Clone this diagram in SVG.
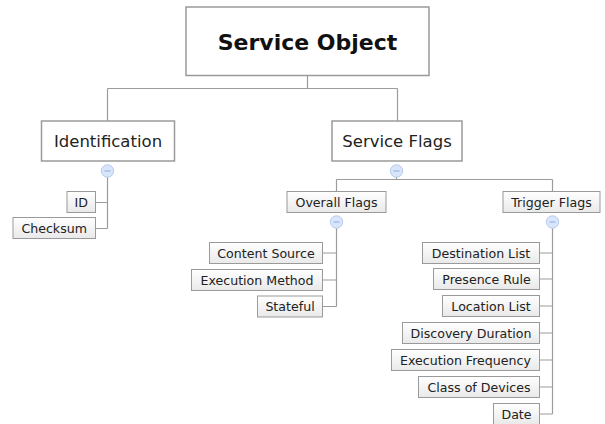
<svg xmlns="http://www.w3.org/2000/svg" width="605" height="424" viewBox="0 0 605 424">
  <defs>
    <linearGradient id="childFill" x1="0" y1="0" x2="0" y2="1">
      <stop offset="0" stop-color="#ffffff"/>
      <stop offset="1" stop-color="#e9e9e9"/>
    </linearGradient>
    <g id="collapse">
      <circle cx="0" cy="0" r="6.2" fill="#d8e5fb" stroke="#b6cbf0" stroke-width="1"/>
      <line x1="-3" y1="0" x2="3" y2="0" stroke="#8fabe0" stroke-width="1"/>
    </g>
  </defs>
  <style>
    .main { fill: #ffffff; stroke: #9a9a9a; stroke-width: 1.5; }
    .child { fill: url(#childFill); stroke: #9a9a9a; stroke-width: 1; }
    .conn { fill: none; stroke: #9c9c9c; stroke-width: 1.2; }
    text { font-family: "DejaVu Sans", "Liberation Sans", sans-serif; fill: #222222; text-anchor: middle; }
    .t0 { font-size: 22px; font-weight: bold; fill: #111111; }
    .t1 { font-size: 16.5px; }
    .t2 { font-size: 12.6px; }
  </style>
  <rect width="605" height="424" fill="#ffffff"/>

  <g id="connectors">
    <path class="conn" d="M307.5,75.5 V88.5 M107.5,88.5 H397.5 M107.5,88.5 V121 M397.5,88.5 V121"/>
    <path class="conn" d="M107.5,171 V228.5 M95.5,202.5 H107.5 M95.5,228.5 H107.5"/>
    <path class="conn" d="M396.5,171 V179.5 M336.5,179.5 H552.5 M336.5,179.5 V191.5 M552.5,179.5 V191.5"/>
    <path class="conn" d="M336.5,222 V306.5 M323,253 H336.5 M323,280 H336.5 M323,306.5 H336.5"/>
    <path class="conn" d="M552.5,222 V414 M539.5,253 H552.5 M539.5,279 H552.5 M539.5,306 H552.5 M539.5,333 H552.5 M539.5,360 H552.5 M539.5,387 H552.5 M539.5,414 H552.5"/>
  </g>

  <g id="service-object">
    <rect class="main" x="186" y="7" width="243" height="68.5"/>
    <text class="t0" x="307.5" y="49.5">Service Object</text>
  </g>

  <g id="identification">
    <rect class="main" x="41.5" y="121" width="133" height="40"/>
    <text class="t1" x="108" y="147">Identification</text>
    <use href="#collapse" x="107.5" y="171"/>
  </g>

  <g id="service-flags">
    <rect class="main" x="332" y="121" width="130" height="40"/>
    <text class="t1" x="397" y="147">Service Flags</text>
    <use href="#collapse" x="396.5" y="171"/>
  </g>

  <g id="id">
    <rect class="child" x="67" y="191.5" width="28.5" height="21"/>
    <text class="t2" x="81.2" y="206.5">ID</text>
  </g>
  <g id="checksum">
    <rect class="child" x="13" y="217.5" width="82.5" height="21"/>
    <text class="t2" x="54.2" y="232.5">Checksum</text>
  </g>

  <g id="overall-flags">
    <rect class="child" x="287" y="191.5" width="99" height="21"/>
    <text class="t2" x="336.5" y="206.5">Overall Flags</text>
    <use href="#collapse" x="336.5" y="222"/>
  </g>
  <g id="trigger-flags">
    <rect class="child" x="503" y="191.5" width="97" height="21"/>
    <text class="t2" x="551.5" y="206.5">Trigger Flags</text>
    <use href="#collapse" x="552.5" y="222"/>
  </g>

  <g id="content-source">
    <rect class="child" x="209.5" y="242.5" width="113" height="21"/>
    <text class="t2" x="266" y="257.5">Content Source</text>
  </g>
  <g id="execution-method">
    <rect class="child" x="191.5" y="269.5" width="131" height="21"/>
    <text class="t2" x="257" y="284.5">Execution Method</text>
  </g>
  <g id="stateful">
    <rect class="child" x="257.5" y="296" width="65" height="21"/>
    <text class="t2" x="290" y="311">Stateful</text>
  </g>

  <g id="destination-list">
    <rect class="child" x="422.5" y="242.5" width="117" height="21"/>
    <text class="t2" x="481" y="257.5">Destination List</text>
  </g>
  <g id="presence-rule">
    <rect class="child" x="433.5" y="268.5" width="106" height="21"/>
    <text class="t2" x="486.5" y="283.5">Presence Rule</text>
  </g>
  <g id="location-list">
    <rect class="child" x="442.5" y="295.5" width="97" height="21"/>
    <text class="t2" x="491" y="310.5">Location List</text>
  </g>
  <g id="discovery-duration">
    <rect class="child" x="402.5" y="322.5" width="137" height="21"/>
    <text class="t2" x="471" y="337.5">Discovery Duration</text>
  </g>
  <g id="execution-frequency">
    <rect class="child" x="391.5" y="349.5" width="148" height="21"/>
    <text class="t2" x="465.5" y="364.5">Execution Frequency</text>
  </g>
  <g id="class-of-devices">
    <rect class="child" x="418.5" y="376.5" width="121" height="21"/>
    <text class="t2" x="479" y="391.5">Class of Devices</text>
  </g>
  <g id="date">
    <rect class="child" x="493.5" y="403.5" width="46" height="21"/>
    <text class="t2" x="516.5" y="418.5">Date</text>
  </g>
</svg>
